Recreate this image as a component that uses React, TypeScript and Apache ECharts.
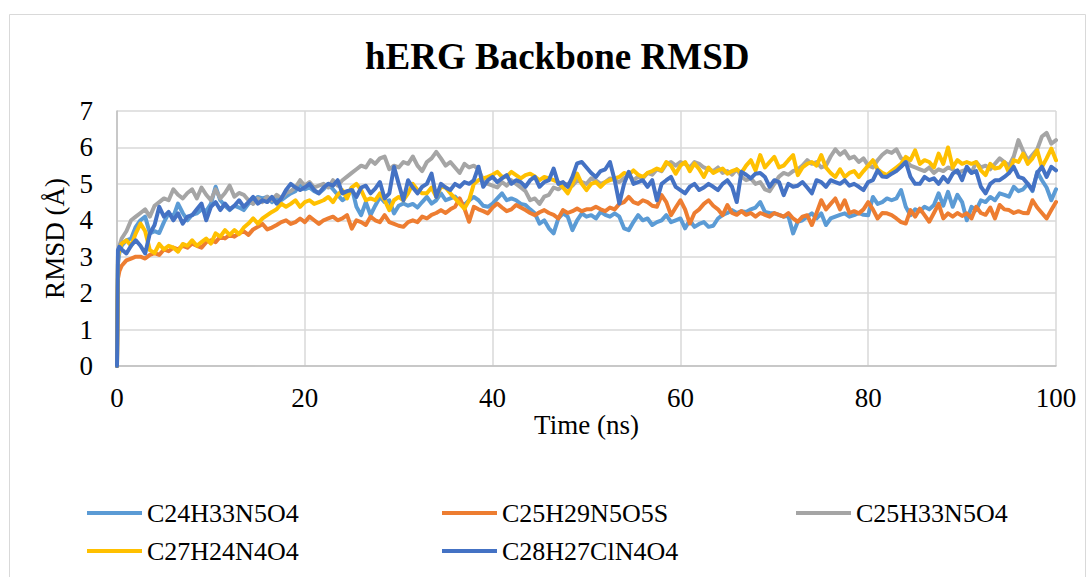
import React, { useEffect, useRef } from "react";
import * as echarts from "echarts";

const TITLE = "hERG Backbone RMSD";
const X_NAME = "Time (ns)";
const Y_NAME = "RMSD (Å)";

const NAMES = ["C24H33N5O4", "C25H29N5O5S", "C25H33N5O4", "C27H24N4O4", "C28H27ClN4O4"];
const COLORS = ["#5B9BD5", "#ED7D31", "#A5A5A5", "#FFC000", "#4472C4"];

// sampling grid (ns): first frames, then every 0.5 ns
const TIME_HEAD = [0, 0.1, 0.25];
const TIMES = [...TIME_HEAD, ...Array.from({ length: 200 }, (_, i) => (i + 1) * 0.5)];

const C24H33N5O4 = [0, 2.8, 3.1,
  3.3, 3.45, 3.5, 3.82, 4.0, 4.1, 3.64, 3.7, 3.65, 3.95, 4.19, 4.1, 4.46, 4.2, 4.0, 4.15, 4.19, 4.3, 4.25, 4.45,
  4.92, 4.55, 4.4, 4.28, 4.4, 4.35, 4.28, 4.45, 4.55, 4.64, 4.6, 4.64, 4.5, 4.6, 4.55, 4.65, 4.74, 4.8, 5.0, 4.85,
  4.9, 4.8, 4.74, 4.85, 5.0, 4.85, 4.7, 4.55, 4.64, 4.9, 4.37, 4.14, 4.5, 4.14, 4.4, 4.64, 4.5, 4.55, 4.19, 4.4,
  4.46, 4.4, 4.45, 4.35, 4.5, 4.64, 4.46, 4.55, 4.74, 4.55, 4.6, 4.65, 4.5, 4.42, 4.55, 4.64, 4.55, 4.4, 4.37, 4.46,
  4.6, 4.74, 4.55, 4.6, 4.55, 4.45, 4.42, 4.3, 4.19, 3.91, 4.0, 3.78, 3.64, 4.05, 4.19, 4.1, 3.73, 4.0, 4.19, 4.1,
  4.14, 4.05, 4.23, 4.15, 4.1, 4.19, 4.1, 3.78, 3.73, 3.95, 4.14, 4.0, 4.05, 3.87, 3.95, 4.0, 4.14, 3.95, 4.0, 4.05,
  3.78, 4.0, 3.82, 3.9, 3.95, 3.82, 3.85, 4.05, 4.15, 4.2, 4.28, 4.2, 4.25, 4.23, 4.3, 4.35, 4.5, 4.23, 4.2, 4.19,
  4.15, 4.1, 4.12, 3.64, 3.96, 4.0, 4.1, 4.19, 4.05, 4.19, 3.87, 4.05, 4.1, 4.15, 4.19, 4.1, 4.14, 4.2, 4.15, 4.14,
  4.64, 4.45, 4.5, 4.6, 4.55, 4.6, 4.83, 4.37, 4.14, 4.3, 4.25, 4.37, 4.3, 4.42, 4.74, 4.4, 4.78, 4.37, 4.7, 4.5,
  4.0, 4.37, 4.28, 4.55, 4.5, 4.64, 4.55, 4.74, 4.7, 4.65, 4.92, 4.8, 4.85, 5.0, 4.8, 5.33, 5.1, 4.9, 4.55, 4.85];

const C25H29N5O5S = [0, 2.4, 2.6,
  2.75, 2.9, 2.95, 3.0, 3.0, 2.95, 3.05, 3.1, 3.05, 3.2, 3.15, 3.25, 3.2, 3.3, 3.25, 3.36, 3.3, 3.25, 3.4, 3.45,
  3.4, 3.55, 3.5, 3.6, 3.55, 3.64, 3.7, 3.6, 3.75, 3.82, 3.9, 3.75, 3.8, 3.87, 3.95, 4.0, 3.9, 3.95, 4.05, 3.95,
  4.1, 4.0, 3.9, 4.0, 4.05, 4.1, 4.0, 4.05, 4.14, 3.77, 4.0, 3.95, 3.87, 4.1, 4.0, 3.95, 4.14, 3.95, 3.9, 3.85,
  3.82, 3.95, 4.0, 3.95, 4.1, 4.05, 4.15, 4.2, 4.28, 4.2, 4.3, 4.37, 4.6, 4.32, 3.96, 4.37, 4.3, 4.25, 4.19, 4.35,
  4.46, 4.35, 4.25, 4.3, 4.42, 4.35, 4.28, 4.2, 4.14, 4.22, 4.28, 4.2, 4.15, 4.05, 4.28, 4.2, 4.25, 4.32, 4.25, 4.3,
  4.3, 4.37, 4.3, 4.25, 4.35, 4.3, 4.45, 4.5, 4.64, 4.5, 4.45, 4.55, 4.5, 4.4, 4.37, 4.69, 4.5, 4.14, 4.35, 4.55,
  4.3, 3.91, 4.2, 4.3, 4.45, 4.55, 4.4, 4.3, 4.14, 4.42, 4.2, 4.15, 4.25, 4.15, 4.2, 4.1, 4.2, 4.15, 4.1, 4.2,
  4.15, 4.1, 4.2, 4.05, 3.96, 4.1, 4.14, 3.87, 4.2, 4.55, 4.3, 4.45, 4.6, 4.3, 4.55, 4.2, 4.25, 4.19, 4.3, 4.5,
  4.3, 4.05, 4.2, 4.19, 4.14, 4.05, 3.95, 3.91, 4.28, 4.1, 4.32, 4.14, 3.96, 4.2, 4.45, 4.05, 4.19, 4.1, 4.2, 4.12,
  4.19, 4.05, 4.37, 4.2, 4.15, 4.35, 4.05, 4.42, 4.3, 4.28, 4.2, 4.25, 4.2, 4.19, 4.55, 4.35, 4.2, 4.05, 4.28, 4.5];

const C25H33N5O4 = [0, 2.9, 3.3,
  3.5, 3.7, 4.0, 4.1, 4.2, 4.3, 4.1, 4.4, 4.5, 4.6, 4.55, 4.85, 4.7, 4.6, 4.75, 4.85, 4.6, 4.9, 4.7, 4.55,
  4.85, 4.6, 4.75, 4.95, 4.65, 4.75, 4.7, 4.55, 4.45, 4.6, 4.5, 4.65, 4.55, 4.7, 4.6, 4.75, 4.8, 4.9, 5.1, 4.95,
  5.05, 4.9, 4.95, 5.0, 4.9, 5.1, 4.95, 5.1, 5.2, 5.3, 5.4, 5.5, 5.45, 5.65, 5.55, 5.7, 5.75, 5.4, 5.5, 5.45,
  5.6, 5.55, 5.75, 5.5, 5.35, 5.6, 5.7, 5.88, 5.7, 5.5, 5.6, 5.45, 5.3, 5.55, 5.45, 5.5, 5.4, 5.1, 5.0, 4.95,
  4.9, 5.05, 4.95, 5.1, 5.0, 4.9, 4.8, 4.55, 4.6, 4.45, 4.65, 4.7, 4.9, 4.85, 4.95, 5.0, 4.95, 5.1, 5.05, 5.0,
  5.15, 5.1, 5.0, 5.05, 5.15, 5.1, 5.05, 5.15, 5.25, 5.1, 5.2, 5.15, 5.3, 5.25, 5.4, 5.35, 5.55, 5.6, 5.5, 5.6,
  5.55, 5.45, 5.6, 5.55, 5.45, 5.4, 5.35, 5.45, 5.3, 5.35, 5.25, 5.4, 5.2, 5.1, 5.15, 5.0, 5.05, 4.85, 4.8, 5.0,
  5.2, 5.3, 5.25, 5.35, 5.4, 5.5, 5.65, 5.55, 5.6, 5.45, 5.5, 5.75, 5.95, 5.8, 5.9, 5.7, 5.75, 5.6, 5.7, 5.5,
  5.45, 5.65, 5.8, 5.9, 5.85, 5.95, 5.7, 5.65, 5.5, 5.45, 5.4, 5.35, 5.45, 5.3, 5.4, 5.35, 5.45, 5.4, 5.3, 5.35,
  5.4, 5.3, 5.6, 5.45, 5.5, 5.4, 5.55, 5.7, 5.6, 5.5, 5.75, 6.2, 5.9, 5.65, 5.8, 5.95, 6.3, 6.4, 6.1, 6.2];

const C27H24N4O4 = [0, 3.0, 3.2,
  3.36, 3.45, 3.3, 3.64, 3.91, 3.7, 3.18, 3.1, 3.35, 3.2, 3.3, 3.25, 3.14, 3.35, 3.3, 3.45, 3.3, 3.4, 3.5, 3.36,
  3.64, 3.55, 3.73, 3.6, 3.73, 3.62, 3.8, 3.91, 4.05, 3.91, 4.05, 4.14, 4.23, 4.3, 4.46, 4.37, 4.45, 4.55, 4.37, 4.5,
  4.55, 4.45, 4.5, 4.55, 4.64, 4.5, 4.7, 4.83, 4.6, 4.9, 5.0, 4.83, 4.55, 4.6, 4.55, 4.74, 4.55, 4.28, 4.55, 4.64,
  4.55, 4.74, 5.0, 4.83, 4.74, 4.74, 4.9, 4.64, 4.92, 4.9, 4.74, 4.6, 4.46, 4.32, 4.55, 5.0, 5.1, 5.15, 5.19, 5.25,
  5.33, 5.19, 5.2, 5.33, 5.24, 5.15, 5.24, 5.28, 5.2, 5.1, 5.19, 5.15, 5.1, 5.05, 4.9, 4.74, 5.0, 5.28, 5.0, 4.83,
  5.0, 5.05, 4.92, 5.05, 5.1, 5.15, 5.19, 5.3, 5.25, 5.37, 5.25, 5.19, 5.3, 5.35, 5.42, 5.37, 5.6, 5.5, 5.28, 5.5,
  5.6, 5.35, 5.56, 5.4, 5.19, 5.45, 5.3, 5.37, 5.42, 5.28, 5.35, 5.4, 5.3, 5.5, 5.65, 5.37, 5.79, 5.45, 5.6, 5.74,
  5.45, 5.5, 5.65, 5.79, 5.24, 5.45, 5.55, 5.6, 5.5, 5.79, 5.45, 5.3, 5.19, 5.4, 5.19, 5.3, 5.35, 5.19, 5.35, 5.5,
  5.65, 5.4, 5.3, 5.24, 5.35, 5.45, 5.55, 5.74, 5.65, 5.92, 5.55, 5.65, 5.6, 5.45, 5.83, 5.55, 6.0, 5.45, 5.65, 5.55,
  5.6, 5.55, 5.6, 5.37, 5.24, 5.55, 5.42, 5.45, 5.6, 5.3, 5.65, 5.6, 5.83, 5.55, 5.7, 5.92, 5.46, 5.7, 5.97, 5.65];

const C28H27ClN4O4 = [0, 3.18, 3.27,
  3.2, 3.09, 3.3, 3.45, 3.3, 3.09, 3.64, 3.87, 4.37, 4.1, 4.23, 4.0, 4.19, 3.91, 4.1, 4.14, 4.3, 4.46, 4.0, 4.37,
  4.5, 4.28, 4.46, 4.3, 4.4, 4.55, 4.37, 4.5, 4.64, 4.46, 4.55, 4.5, 4.64, 4.46, 4.6, 4.83, 5.0, 4.9, 4.83, 4.9,
  5.0, 4.83, 4.74, 4.9, 5.0, 4.95, 5.1, 4.74, 4.8, 4.83, 4.64, 4.9, 4.95, 4.74, 4.87, 5.05, 4.6, 4.74, 5.47, 5.0,
  4.55, 5.1, 4.9, 4.74, 4.92, 5.0, 5.28, 4.64, 5.0, 4.9, 4.83, 5.0, 4.92, 5.05, 5.0, 5.1, 5.47, 4.92, 5.1, 5.19,
  5.05, 5.15, 5.24, 5.0, 5.1, 5.05, 4.92, 5.1, 5.19, 4.92, 5.05, 5.1, 5.42, 5.0, 5.05, 4.92, 5.19, 5.56, 5.6, 5.45,
  5.3, 5.19, 5.35, 5.4, 5.6, 5.1, 4.46, 5.0, 5.33, 5.0, 5.05, 5.1, 4.92, 5.1, 4.55, 5.0, 5.1, 5.19, 4.92, 4.83,
  4.74, 4.92, 5.0, 4.83, 4.9, 5.0, 4.92, 4.83, 5.0, 5.1, 4.92, 4.5, 5.33, 5.25, 5.15, 5.28, 5.3, 5.19, 4.92, 5.1,
  5.05, 4.69, 5.0, 4.92, 4.95, 5.05, 4.9, 4.74, 5.1, 5.05, 4.92, 5.1, 5.05, 5.0, 5.1, 4.95, 5.0, 4.92, 4.83, 5.05,
  5.1, 5.37, 5.2, 5.19, 5.28, 5.35, 5.47, 5.6, 5.19, 5.0, 5.0, 5.19, 5.1, 5.15, 5.0, 5.19, 5.05, 5.28, 5.37, 5.1,
  5.47, 5.3, 5.35, 4.92, 4.74, 5.0, 5.1, 5.1, 5.19, 5.3, 5.47, 5.19, 5.15, 5.0, 4.83, 5.3, 5.47, 5.19, 5.47, 5.37];

const SERIES_VALUES = [C24H33N5O4, C25H29N5O5S, C25H33N5O4, C27H24N4O4, C28H27ClN4O4];

const X_MIN = 0, X_MAX = 100, X_STEP = 20;
const Y_MIN = 0, Y_MAX = 7, Y_STEP = 1;

const FONT = "Liberation Serif";

// legend slots (Excel-style grid of 3 columns)
const LEGEND_LEFT = [87, 442, 796, 87, 442];
const LEGEND_TOP = [500, 500, 500, 538, 538];

export default function App() {
  const ref = useRef<HTMLDivElement>(null);

  useEffect(() => {
    if (!ref.current) return;
    const chart = echarts.init(ref.current, null, { renderer: "svg" });
    chart.setOption({
      animation: false,
      backgroundColor: "#fff",
      textStyle: { fontFamily: FONT },
      title: {
        text: TITLE,
        left: 365,
        top: 38,
        padding: 0,
        textStyle: { fontSize: 37, fontWeight: "bold", color: "#000", fontFamily: FONT },
      },
      graphic: [
        {
          type: "rect",
          shape: { x: 9.5, y: 14.5, width: 1076, height: 600 },
          style: { fill: "none", stroke: "#d9d9d9", lineWidth: 1 },
          silent: true,
        },
      ],
      legend: NAMES.map((name, i) => ({
        left: LEGEND_LEFT[i],
        top: LEGEND_TOP[i],
        padding: 0,
        itemWidth: 55,
        itemHeight: 4,
        icon: "rect",
        selectedMode: false,
        data: [name],
        textStyle: { fontSize: 26, color: "#000", fontFamily: FONT },
      })),
      grid: { left: 117, right: 36, top: 111, bottom: 577 - 366, containLabel: false },
      xAxis: {
        type: "value",
        min: X_MIN,
        max: X_MAX,
        interval: X_STEP,
        name: X_NAME,
        nameLocation: "middle",
        nameGap: 43,
        nameTextStyle: { fontSize: 27, color: "#000", fontFamily: FONT },
        axisLine: { show: true, lineStyle: { color: "#bfbfbf", width: 1.5 } },
        axisTick: { show: false },
        axisLabel: { fontSize: 27, color: "#000", margin: 18, fontFamily: FONT },
        splitLine: { show: true, lineStyle: { color: "#d9d9d9", width: 1.5 } },
      },
      yAxis: {
        type: "value",
        min: Y_MIN,
        max: Y_MAX,
        interval: Y_STEP,
        name: Y_NAME,
        nameLocation: "middle",
        nameRotate: 90,
        nameGap: 45,
        nameTextStyle: { fontSize: 27, color: "#000", fontFamily: FONT },
        axisLine: { show: true, lineStyle: { color: "#bfbfbf", width: 1.5 } },
        axisTick: { show: false },
        axisLabel: { fontSize: 27, color: "#000", margin: 24, fontFamily: FONT },
        splitLine: { show: true, lineStyle: { color: "#d9d9d9", width: 1.5 } },
      },
      series: NAMES.map((name, i) => ({
        name,
        type: "line",
        data: TIMES.map((t, j) => [t, SERIES_VALUES[i][j]]),
        showSymbol: false,
        symbol: "none",
        color: COLORS[i],
        lineStyle: { color: COLORS[i], width: 4, join: "round", cap: "round" },
        z: 2 + i,
      })),
    });
    return () => chart.dispose();
  }, []);

  return (
    <div
      ref={ref}
      style={{ position: "absolute", left: 0, top: 0, width: 1092, height: 577, background: "#fff" }}
    />
  );
}
